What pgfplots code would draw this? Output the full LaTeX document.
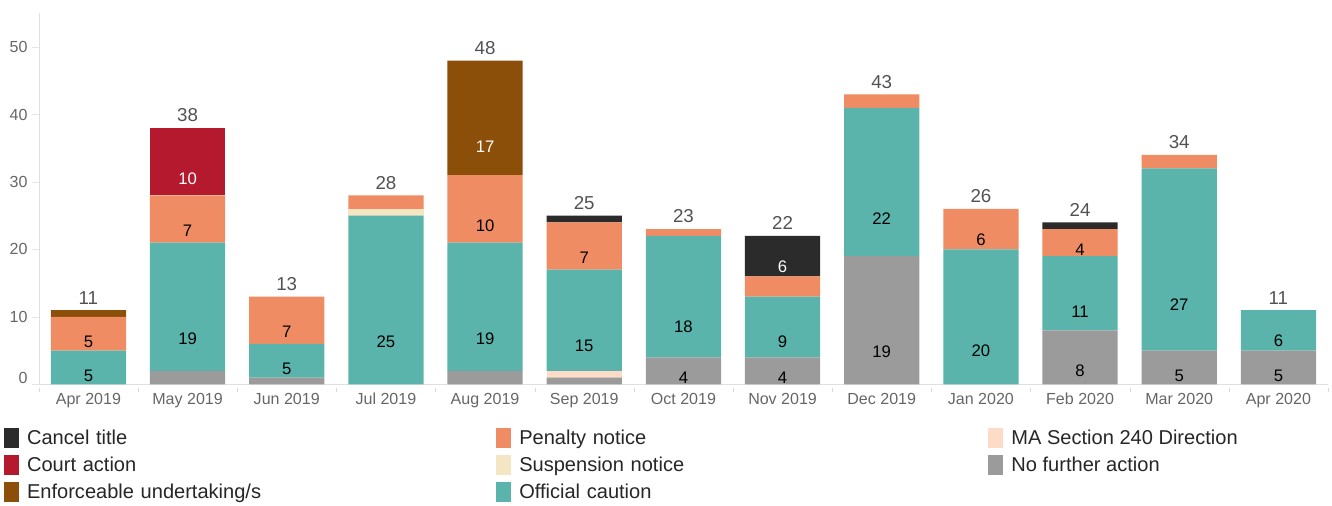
\documentclass[border=0pt]{standalone}
\usepackage{fontspec}
\setmainfont{Liberation Sans}
\usepackage{pgfplots}
\usepackage{pgfplotstable}
\pgfplotsset{compat=1.18}

\definecolor{cCancel}{HTML}{2B2B2B}
\definecolor{cCourt}{HTML}{B5192E}
\definecolor{cEU}{HTML}{8B4F09}
\definecolor{cPen}{HTML}{F08C63}
\definecolor{cSusp}{HTML}{F5E6C3}
\definecolor{cOC}{HTML}{5AB4AC}
\definecolor{cMA}{HTML}{FCDCC6}
\definecolor{cNFA}{HTML}{9B9B9B}
\definecolor{tickgray}{HTML}{666666}

\pgfplotstableread{
x nfa ma oc susp pen eu court cancel total
0 0 0 5 0 5 1 0 0 11
1 2 0 19 0 7 0 10 0 38
2 1 0 5 0 7 0 0 0 13
3 0 0 25 1 2 0 0 0 28
4 2 0 19 0 10 17 0 0 48
5 1 1 15 0 7 0 0 1 25
6 4 0 18 0 1 0 0 0 23
7 4 0 9 0 3 0 0 6 22
8 19 0 22 0 2 0 0 0 43
9 0 0 20 0 6 0 0 0 26
10 8 0 11 0 4 0 0 1 24
11 5 0 27 0 2 0 0 0 34
12 5 0 6 0 0 0 0 0 11
}\data

% segment labels: centred in the segment, hidden below 4
\pgfplotsset{
  seg/.style 2 args={
    visualization depends on={\thisrow{#1}\as\rawy},
    nodes near coords={\ifdim\rawy pt<3.5pt\else\pgfmathprintnumber{\rawy}\fi},
    every node near coord/.style={anchor=center, yshift={-1.26135*\rawy},
      font=\fontsize{12.5}{14}\selectfont, text=#2},
  },
}

\begin{document}
\begin{tikzpicture}
\begin{axis}[
  scale only axis, width=964.5pt, height=277.5pt,
  ybar stacked, bar width=56.25pt,
  xmin=-0.5, xmax=12.5, ymin=0, ymax=55,
  xtick=data,
  xticklabels={Apr 2019,May 2019,Jun 2019,Jul 2019,Aug 2019,Sep 2019,Oct 2019,Nov 2019,Dec 2019,Jan 2020,Feb 2020,Mar 2020,Apr 2020},
  minor xtick={-0.5,0.5,...,12.5},
  ytick={0,10,20,30,40,50},
  yticklabels={\raisebox{9pt}{0},10,20,30,40,50},
  axis x line*=bottom, axis y line*=left,
  axis line style={draw=black!12, -},
  x tick style={draw=none},
  minor x tick style={draw=black!15, dashed},
  minor tick length=6pt,
  y tick style={draw=black!10},
  major tick length=5pt,
  tick align=outside,
  ticklabel style={font=\fontsize{12}{14}\selectfont, text=tickgray},
  xticklabel style={yshift=2pt},
  /pgf/number format/assume math mode=true,
  legend cell align=left,
  reverse legend, transpose legend,
  legend columns=3,
  legend image code/.code={\fill[#1] (0pt,-7.5pt) rectangle (11.25pt,7.5pt);},
  legend style={
    at={(0,0)}, anchor=north west, xshift=-29.25pt, yshift=-29.5pt,
    draw=none, fill=none,
    font=\fontsize{15}{17}\selectfont, text=black!85,
    cells={anchor=west, inner sep=1pt, text height=11pt, text depth=3.5pt},
    row sep=3.7pt,
    /tikz/every odd column/.append style={column sep=4pt},
    /tikz/column 2/.style={nodes={text width=349pt}},
    /tikz/column 4/.style={nodes={text width=349pt}},
  },
  after end axis/.code={\path (rel axis cs:0,1) ++(0,10pt) (rel axis cs:1,1) ++(3pt,0pt);},
]
\addplot[fill=cNFA, draw=none, seg={nfa}{black}] table[x=x, y=nfa]{\data};
\addlegendentry{No further action}
\addplot[fill=cMA, draw=none, seg={ma}{black}] table[x=x, y=ma]{\data};
\addlegendentry{MA Section 240 Direction}
\addplot[fill=cOC, draw=none, seg={oc}{black}] table[x=x, y=oc]{\data};
\addlegendentry{Official caution}
\addplot[fill=cSusp, draw=none, seg={susp}{black}] table[x=x, y=susp]{\data};
\addlegendentry{Suspension notice}
\addplot[fill=cPen, draw=none, seg={pen}{black}] table[x=x, y=pen]{\data};
\addlegendentry{Penalty notice}
\addplot[fill=cEU, draw=none, seg={eu}{white}] table[x=x, y=eu]{\data};
\addlegendentry{Enforceable undertaking/s}
\addplot[fill=cCourt, draw=none, seg={court}{white}] table[x=x, y=court]{\data};
\addlegendentry{Court action}
\addplot[fill=cCancel, draw=none, seg={cancel}{white}] table[x=x, y=cancel]{\data};
\addlegendentry{Cancel title}
% totals on top of each stack
\addplot[forget plot, draw=none, fill=none,
  visualization depends on={\thisrow{total}\as\rawt},
  nodes near coords={\pgfmathprintnumber{\rawt}},
  every node near coord/.style={anchor=south, yshift=1pt,
    font=\fontsize{14}{16}\selectfont, text=black!68}]
  table[x=x, y expr=0.001]{\data};
\end{axis}
\end{tikzpicture}
\end{document}
